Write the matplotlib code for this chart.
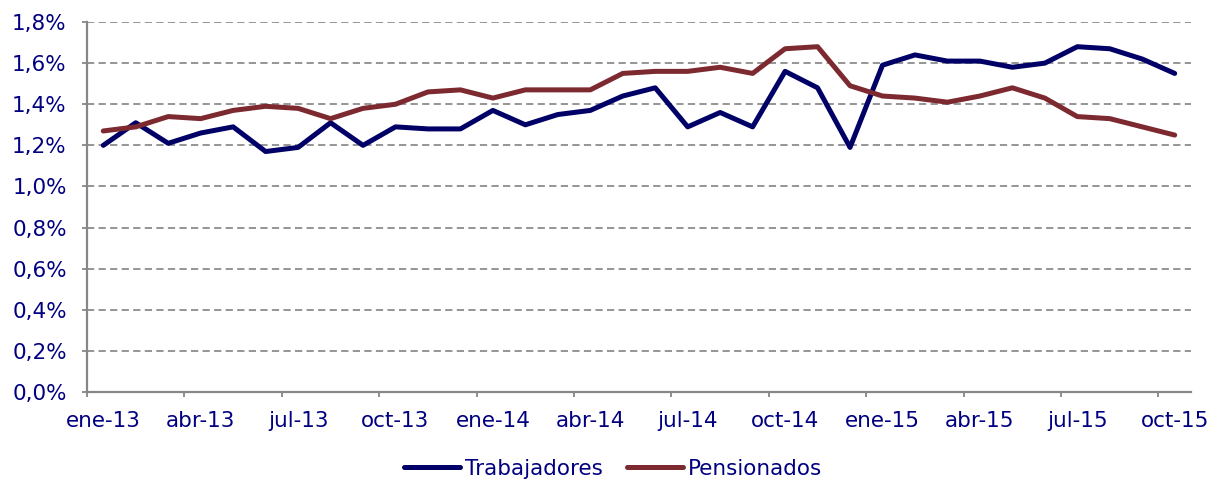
import numpy as np
import matplotlib
matplotlib.use("Agg")
import matplotlib.pyplot as plt
from matplotlib.ticker import FixedLocator, FuncFormatter

# monthly series, ene-13 .. oct-15 (in %)
trabajadores = [1.20, 1.31, 1.21, 1.26, 1.29, 1.17, 1.19, 1.31, 1.20, 1.29,
                1.28, 1.28, 1.37, 1.30, 1.35, 1.37, 1.44, 1.48, 1.29, 1.36,
                1.29, 1.56, 1.48, 1.19, 1.59, 1.64, 1.61, 1.61, 1.58, 1.60,
                1.68, 1.67, 1.62, 1.55]
pensionados = [1.27, 1.29, 1.34, 1.33, 1.37, 1.39, 1.38, 1.33, 1.38, 1.40,
               1.46, 1.47, 1.43, 1.47, 1.47, 1.47, 1.55, 1.56, 1.56, 1.58,
               1.55, 1.67, 1.68, 1.49, 1.44, 1.43, 1.41, 1.44, 1.48, 1.43,
               1.34, 1.33, 1.29, 1.25]
tick_labels = ["ene-13", "abr-13", "jul-13", "oct-13", "ene-14", "abr-14",
               "jul-14", "oct-14", "ene-15", "abr-15", "jul-15", "oct-15"]

navy = "#000066"
maroon = "#7D2930"
txt = "#000080"
axis_gray = "#878787"
fs = 15.5

plt.rcParams['font.family'] = ['DejaVu Sans']

fig = plt.figure(figsize=(12.14, 4.79), dpi=100)
ax = fig.add_axes([0.0717, 0.1816, 0.9093, 0.7724])

x = np.arange(len(trabajadores))
ax.plot(x, trabajadores, color=navy, lw=3.6, label="Trabajadores", solid_capstyle="round")
ax.plot(x, pensionados, color=maroon, lw=3.6, label="Pensionados", solid_capstyle="round")

ax.set_xlim(-0.5, len(x) - 0.5)
ax.set_ylim(0, 1.8)

# ticks between categories, labels on category centers
ax.xaxis.set_major_locator(FixedLocator(np.arange(0, len(x), 3) - 0.5))
ax.xaxis.set_major_formatter(FuncFormatter(lambda v, p: ""))
ax.xaxis.set_minor_locator(FixedLocator(np.arange(0, len(x), 3)))
ax.set_xticklabels(tick_labels, minor=True)
ax.tick_params(axis="x", which="major", length=3.6, width=1.3, color=axis_gray, direction="out")
ax.tick_params(axis="x", which="minor", length=0, pad=14, labelsize=fs, labelcolor=txt)

yt = np.arange(0, 1.81, 0.2)
ax.set_yticks(yt)
ax.yaxis.set_major_formatter(FuncFormatter(lambda v, p: ("%.1f%%" % v).replace(".", ",")))
ax.tick_params(axis="y", length=3.6, width=1.3, color=axis_gray, labelsize=fs, labelcolor=txt, pad=11)

for y in yt[1:]:
    ax.axhline(y, color="#8c8c8c", lw=1.3, ls=(0, (4, 2.4)), zorder=0)

for s in ["top", "right"]:
    ax.spines[s].set_visible(False)
for s in ["left", "bottom"]:
    ax.spines[s].set_color(axis_gray)
    ax.spines[s].set_linewidth(1.6)

leg = fig.legend(*ax.get_legend_handles_labels(), loc="center",
                 bbox_to_anchor=(613 / 1214, 1 - 469 / 479), ncol=2, frameon=False,
                 fontsize=fs, handlelength=2.6, handletextpad=0.23, columnspacing=1.15,
                 borderpad=0, borderaxespad=0)
for t in leg.get_texts():
    t.set_color(txt)

fig.savefig("out.png", dpi=100)
